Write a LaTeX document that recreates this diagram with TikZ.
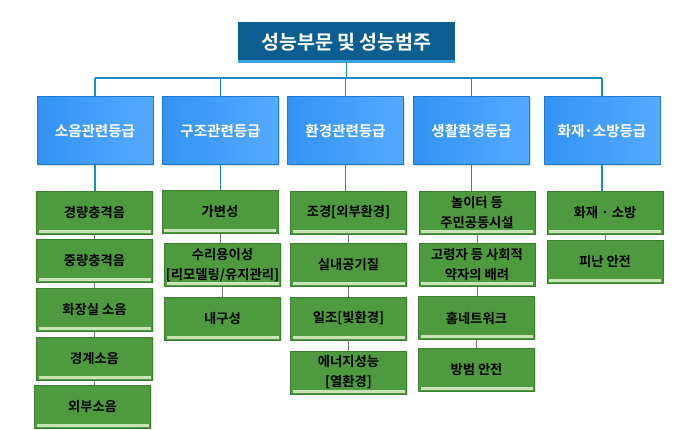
\documentclass[tikz,border=0pt]{standalone}
\usepackage{fontspec}
\setmainfont{Noto Sans CJK KR}[BoldFont={Noto Sans CJK KR Bold}]
\usetikzlibrary{shadows}

\definecolor{titleblue}{HTML}{0B5E8F}
\definecolor{titlestripe}{HTML}{3DA2E2}
\definecolor{busblue}{HTML}{1B8DC4}
\definecolor{catleft}{HTML}{3393F3}
\definecolor{catright}{HTML}{55AAFF}
\definecolor{catborder}{HTML}{1B7BCF}
\definecolor{itemgreen}{HTML}{4E9A3F}
\definecolor{itemborder}{HTML}{3E7E32}
\definecolor{itemstripe}{HTML}{C6E4B6}

\tikzset{
  titlebox/.style={rectangle, fill=titleblue, text=white,
    minimum width=217pt, minimum height=41pt, inner sep=0pt,
    font=\bfseries\fontsize{19.5}{22}\selectfont,
    path picture={\fill[titlestripe] (path picture bounding box.south west)
      rectangle ([yshift=3pt]path picture bounding box.south east);}},
  catbox/.style={rectangle, draw=catborder, line width=1pt,
    left color=catleft, right color=catright, text=white,
    minimum width=116pt, minimum height=68pt, inner sep=0pt,
    drop shadow={shadow xshift=1pt, shadow yshift=-1pt, opacity=0.25},
    font=\bfseries\fontsize{14.5}{18}\selectfont},
  itembox/.style={rectangle, draw=itemborder, line width=0.6pt, fill=itemgreen,
    text=black, align=center,
    minimum width=116pt, minimum height=43pt, inner sep=0pt,
    drop shadow={shadow xshift=1pt, shadow yshift=-1pt, opacity=0.25},
    font=\bfseries\fontsize{13.3}{20}\selectfont,
    path picture={\fill[itemstripe]
      ([xshift=2pt,yshift=1.2pt]path picture bounding box.south west)
      rectangle ([xshift=-2pt,yshift=4.2pt]path picture bounding box.south east);}},
  busline/.style={draw=busblue, line width=1.4pt},
  itemline/.style={draw=black!55, line width=0.7pt}
}

\begin{document}
\begin{tikzpicture}[x=1pt,y=-1pt]
\useasboundingbox (0,0) rectangle (681,430);

\node[titlebox] (title) at (346.5,42.5) {성능부문 및 성능범주};

\node[catbox] (noise)  at (95,131)    {소음관련등급};
\node[catbox] (struct) at (220.5,131) {구조관련등급};
\node[catbox] (env)    at (345.5,131) {환경관련등급};
\node[catbox] (life)   at (471.5,131) {생활환경등급};
\node[catbox] (fire)   at (602,131)   {화재·소방등급};

\node[itembox] (noise1) at (94.5,212.5) {경량충격음};
\node[itembox] (noise2) at (94.5,261)   {중량충격음};
\node[itembox] (noise3) at (94.5,310)   {화장실 소음};
\node[itembox] (noise4) at (94.5,359)   {경계소음};
\node[itembox] (noise5) at (92.5,407)   {외부소음};

\node[itembox] (struct1) at (220,212)   {가변성};
\node[itembox] (struct2) at (222.5,265) {수리용이성\\{[}리모델링/유지관리{]}};
\node[itembox] (struct3) at (222.5,318.5) {내구성};

\node[itembox] (env1) at (348.5,212.5) {조경{[}외부환경{]}};
\node[itembox] (env2) at (348.5,265)   {실내공기질};
\node[itembox] (env3) at (348.5,318.5) {일조{[}빛환경{]}};
\node[itembox] (env4) at (348.5,372.5) {에너지성능\\{[}열환경{]}};

\node[itembox] (life1) at (477,212.5) {놀이터 등\\주민공동시설};
\node[itembox] (life2) at (477,265)   {고령자 등 사회적\\약자의 배려};
\node[itembox] (life3) at (476.5,318) {홈네트워크};
\node[itembox] (life4) at (476.5,370) {방범 안전};

\node[itembox] (fire1) at (605,212.5) {화재 · 소방};
\node[itembox] (fire2) at (605,261.5) {피난 안전};

\coordinate (bus) at (346.5,78);
\draw[busline] (title.south) -- (bus);
\draw[busline] (noise.north |- bus) -- (fire.north |- bus);
\foreach \c in {noise,struct,env,life,fire}
  \draw[busline] (\c.north) -- (\c.north |- bus);

\draw[busline] (noise.south) -- (noise.south |- noise1.north);
\draw[busline] (struct.south) -- (struct.south |- struct1.north);
\draw[busline] (env.south) -- (env.south |- env1.north);
\draw[busline] (life.south) -- (life.south |- life1.north);
\draw[busline] (fire.south) -- (fire.south |- fire1.north);

\foreach \a/\b in {noise1/noise2,noise2/noise3,noise3/noise4,noise4/noise5,
    struct1/struct2,struct2/struct3,env1/env2,env2/env3,env3/env4,
    life1/life2,life2/life3,life3/life4,fire1/fire2}
  \draw[itemline] (\a.south) -- (\a.south |- \b.north);
\end{tikzpicture}
\end{document}
